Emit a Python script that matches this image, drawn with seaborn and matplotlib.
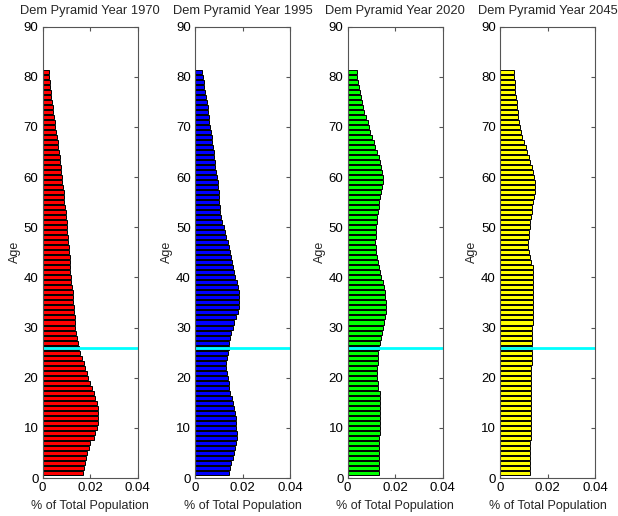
import matplotlib
matplotlib.use("Agg")
import matplotlib.pyplot as plt
import seaborn as sns
import numpy as np

# Edades 1..81
ages = list(range(1, 82))

pop_1970 = [0.0171, 0.0175, 0.0179, 0.0183, 0.0185, 0.0193, 0.0201, 0.0214, 0.0222, 0.0228,
            0.0231, 0.0234, 0.0234, 0.0231, 0.0227, 0.0220, 0.0214, 0.0206, 0.0199, 0.0192,
            0.0185, 0.0179, 0.0172, 0.0165, 0.0158, 0.0151, 0.0147, 0.0144, 0.0141, 0.0138,
            0.0137, 0.0134, 0.0131, 0.0130, 0.0129, 0.0127, 0.0126, 0.0123, 0.0120, 0.0119,
            0.0117, 0.0116, 0.0115, 0.0113, 0.0112, 0.0109, 0.0108, 0.0105, 0.0103, 0.0102,
            0.0101, 0.0098, 0.0097, 0.0095, 0.0091, 0.0090, 0.0088, 0.0085, 0.0083, 0.0081,
            0.0078, 0.0077, 0.0074, 0.0071, 0.0069, 0.0066, 0.0063, 0.0060, 0.0057, 0.0053,
            0.0050, 0.0048, 0.0045, 0.0042, 0.0039, 0.0036, 0.0034, 0.0031, 0.0029, 0.0027,
            0.0025]

pop_1995 = [0.0144, 0.0148, 0.0153, 0.0159, 0.0164, 0.0169, 0.0173, 0.0176, 0.0177, 0.0174,
            0.0173, 0.0171, 0.0167, 0.0163, 0.0159, 0.0155, 0.0149, 0.0145, 0.0141, 0.0137,
            0.0134, 0.0132, 0.0132, 0.0135, 0.0138, 0.0141, 0.0145, 0.0148, 0.0153, 0.0160,
            0.0166, 0.0173, 0.0180, 0.0184, 0.0187, 0.0187, 0.0184, 0.0181, 0.0177, 0.0169,
            0.0164, 0.0160, 0.0156, 0.0152, 0.0146, 0.0141, 0.0137, 0.0131, 0.0125, 0.0120,
            0.0114, 0.0110, 0.0107, 0.0105, 0.0103, 0.0102, 0.0100, 0.0098, 0.0095, 0.0092,
            0.0089, 0.0086, 0.0084, 0.0081, 0.0078, 0.0075, 0.0072, 0.0070, 0.0067, 0.0064,
            0.0061, 0.0059, 0.0056, 0.0053, 0.0050, 0.0046, 0.0042, 0.0039, 0.0036, 0.0033,
            0.0031]

pop_2020 = [0.0130, 0.0132, 0.0133, 0.0133, 0.0133, 0.0133, 0.0133, 0.0133, 0.0134, 0.0134,
            0.0134, 0.0134, 0.0135, 0.0135, 0.0135, 0.0136, 0.0137, 0.0129, 0.0126, 0.0123,
            0.0122, 0.0123, 0.0126, 0.0127, 0.0129, 0.0131, 0.0136, 0.0140, 0.0144, 0.0148,
            0.0154, 0.0158, 0.0161, 0.0161, 0.0161, 0.0158, 0.0155, 0.0151, 0.0147, 0.0141,
            0.0136, 0.0131, 0.0126, 0.0123, 0.0120, 0.0117, 0.0116, 0.0119, 0.0120, 0.0120,
            0.0122, 0.0124, 0.0127, 0.0130, 0.0133, 0.0136, 0.0140, 0.0145, 0.0147, 0.0147,
            0.0145, 0.0141, 0.0136, 0.0131, 0.0124, 0.0116, 0.0110, 0.0102, 0.0095, 0.0090,
            0.0084, 0.0077, 0.0070, 0.0064, 0.0059, 0.0055, 0.0052, 0.0048, 0.0043, 0.0041,
            0.0038]

pop_2045 = [0.0128, 0.0128, 0.0128, 0.0128, 0.0128, 0.0128, 0.0128, 0.0131, 0.0131, 0.0131,
            0.0131, 0.0131, 0.0131, 0.0131, 0.0131, 0.0131, 0.0131, 0.0131, 0.0131, 0.0131,
            0.0131, 0.0131, 0.0135, 0.0135, 0.0135, 0.0135, 0.0135, 0.0135, 0.0135, 0.0135,
            0.0139, 0.0139, 0.0139, 0.0139, 0.0139, 0.0139, 0.0139, 0.0139, 0.0139, 0.0139,
            0.0139, 0.0139, 0.0131, 0.0126, 0.0122, 0.0119, 0.0119, 0.0122, 0.0124, 0.0125,
            0.0128, 0.0131, 0.0133, 0.0136, 0.0139, 0.0143, 0.0147, 0.0147, 0.0146, 0.0142,
            0.0138, 0.0133, 0.0128, 0.0121, 0.0115, 0.0110, 0.0103, 0.0094, 0.0089, 0.0083,
            0.0081, 0.0076, 0.0074, 0.0072, 0.0071, 0.0068, 0.0065, 0.0064, 0.0063, 0.0061,
            0.0058]

years = ["1970", "1995", "2020", "2045"]
series = [pop_1970, pop_1995, pop_2020, pop_2045]
colors = ["#ff0000", "#0000ff", "#00ff00", "#ffff00"]
ref_age = 26

sns.set_style("ticks")
plt.rcParams['font.family'] = ['Liberation Sans', 'DejaVu Sans']
plt.rcParams['font.size'] = 9

fig = plt.figure(figsize=(6.18, 5.16), dpi=100)
lefts = [0.069, 0.3155, 0.5626, 0.809]

# Un panel por año
for i, (yr, vals, c) in enumerate(zip(years, series, colors)):
    ax = fig.add_axes([lefts[i], 0.0736, 0.154, 0.875])
    sns.barplot(x=vals, y=ages, orient='h', native_scale=True, color=c,
                saturation=1, edgecolor='black', linewidth=0.7, width=0.8, ax=ax)
    ax.axhline(ref_age, color='cyan', lw=2)
    ax.set_xlim(0, 0.04)
    ax.set_ylim(0, 90)
    ax.set_xticks([0, 0.02, 0.04])
    ax.set_xticklabels(['0', '0.02', '0.04'])
    ax.set_yticks(np.arange(0, 91, 10))
    ax.tick_params(direction='in', top=True, right=True, length=3, labelsize=9.5,
                   pad=3, colors='#555555', labelcolor='black')
    for s in ax.spines.values():
        s.set_color('#555555')
        s.set_linewidth(0.8)
    ax.set_title(f'Dem Pyramid Year {yr}', fontsize=9.3, pad=9)
    ax.set_xlabel('% of Total Population', fontsize=9, labelpad=4)
    ax.set_ylabel('Age', fontsize=9, labelpad=2)

fig.savefig('out.png', dpi=100)
